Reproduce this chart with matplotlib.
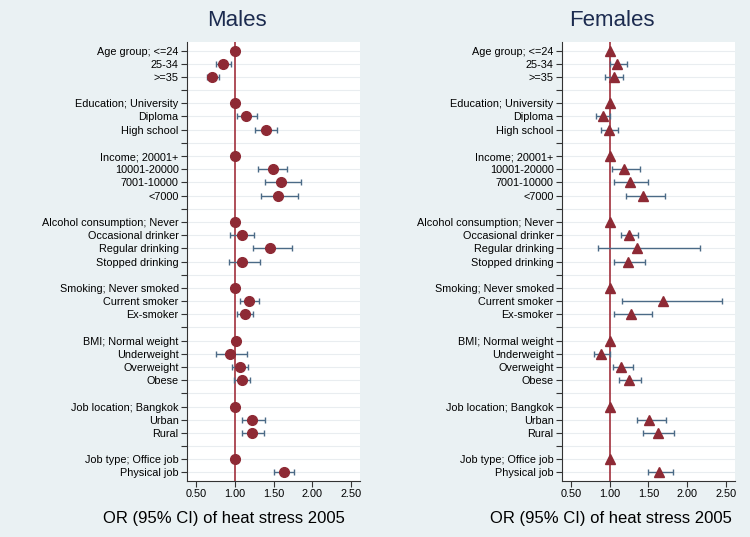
"""
Forest plot of heat stress odds ratios, males vs females (Stata look)
"""
import numpy as np
import matplotlib
matplotlib.use('Agg')
import matplotlib.pyplot as plt

plt.rcParams['font.family'] = ['Liberation Sans', 'DejaVu Sans']

# row labels, grouped (a blank row goes between groups)
groups = [
    ['Age group; <=24', '25-34', '>=35'],
    ['Education; University', 'Diploma', 'High school'],
    ['Income; 20001+', '10001-20000', '7001-10000', '<7000'],
    ['Alcohol consumption; Never', 'Occasional drinker', 'Regular drinking', 'Stopped drinking'],
    ['Smoking; Never smoked', 'Current smoker', 'Ex-smoker'],
    ['BMI; Normal weight', 'Underweight', 'Overweight', 'Obese'],
    ['Job location; Bangkok', 'Urban', 'Rural'],
    ['Job type; Office job', 'Physical job'],
]

male_or = [1.00, 0.85, 0.71,
           1.00, 1.15, 1.40,
           1.00, 1.49, 1.60, 1.56,
           1.00, 1.09, 1.46, 1.10,
           1.00, 1.19, 1.13,
           1.02, 0.94, 1.07, 1.09,
           1.00, 1.22, 1.22,
           1.01, 1.63]
male_lo = [np.nan, 0.76, 0.64,
           np.nan, 1.03, 1.26,
           np.nan, 1.30, 1.39, 1.34,
           np.nan, 0.94, 1.24, 0.92,
           np.nan, 1.07, 1.03,
           np.nan, 0.76, 0.97, 0.99,
           np.nan, 1.09, 1.09,
           np.nan, 1.51]
male_hi = [np.nan, 0.95, 0.80,
           np.nan, 1.29, 1.55,
           np.nan, 1.68, 1.85, 1.81,
           np.nan, 1.25, 1.74, 1.32,
           np.nan, 1.31, 1.23,
           np.nan, 1.16, 1.17, 1.20,
           np.nan, 1.39, 1.38,
           np.nan, 1.77]

female_or = [1.00, 1.10, 1.05,
             1.00, 0.91, 0.99,
             1.00, 1.19, 1.26, 1.43,
             1.00, 1.25, 1.35, 1.23,
             1.00, 1.69, 1.28,
             1.00, 0.89, 1.15, 1.25,
             1.00, 1.51, 1.62,
             1.00, 1.64]
female_lo = [np.nan, 1.00, 0.94,
             np.nan, 0.82, 0.89,
             np.nan, 1.03, 1.06, 1.21,
             np.nan, 1.15, 0.85, 1.05,
             np.nan, 1.16, 1.05,
             np.nan, 0.80, 1.04, 1.12,
             np.nan, 1.35, 1.43,
             np.nan, 1.49]
female_hi = [np.nan, 1.22, 1.17,
             np.nan, 1.01, 1.11,
             np.nan, 1.39, 1.49, 1.71,
             np.nan, 1.36, 2.16, 1.45,
             np.nan, 2.45, 1.55,
             np.nan, 1.01, 1.30, 1.40,
             np.nan, 1.72, 1.83,
             np.nan, 1.81]

xticks = [0.5, 1.0, 1.5, 2.0, 2.5]

BG = '#eaf1f3'
MARK = '#8e2a35'
REFLINE = '#a1303c'
CI_COL = '#4b6a86'
TITLE_COL = '#1c2b4f'

# y positions with a blank row between groups
pos, labels, tick_pos, tick_lab = [], [], [], []
y = 0
for gi, g in enumerate(groups):
    for lab in g:
        pos.append(y)
        labels.append(lab)
        tick_pos.append(y)
        tick_lab.append(lab)
        y += 1
    if gi < len(groups) - 1:
        tick_pos.append(y)
        tick_lab.append('')
        y += 1
pos = np.array(pos)
nrows = y


def panel(ax, est, lo, hi, marker, title, title_x, xlab_x):
    est, lo, hi = np.array(est), np.array(lo), np.array(hi)
    ax.set_facecolor('white')
    for t in tick_pos:
        ax.axhline(t, color='#e9edf0', lw=0.8, zorder=0)
    ax.axvline(1.0, color=REFLINE, lw=1.2, zorder=1)

    ok = ~np.isnan(lo)
    ax.errorbar(est[ok], pos[ok], xerr=[est[ok] - lo[ok], hi[ok] - est[ok]],
                fmt='none', ecolor=CI_COL, elinewidth=1.0, capsize=2.5,
                capthick=1.0, zorder=2)
    ax.plot(est, pos, ls='none', marker=marker, ms=7 if marker == 'o' else 7.5,
            color=MARK, mec=MARK, zorder=3)

    ax.set_xlim(0.385, 2.615)
    ax.set_ylim(nrows - 1 + 0.65, -0.65)
    ax.set_yticks(tick_pos)
    ax.set_yticklabels(tick_lab, fontsize=7.8)
    ax.set_xticks(xticks)
    ax.set_xticklabels([f'{v:.2f}' for v in xticks], fontsize=7.8)
    ax.tick_params(axis='both', length=4, width=0.8, color='#333333', pad=2)
    for s in ['top', 'right']:
        ax.spines[s].set_visible(False)
    for s in ['left', 'bottom']:
        ax.spines[s].set_color('#333333')
        ax.spines[s].set_linewidth(0.8)

    fig.text(title_x, 0.961, title, ha='center', va='center',
             fontsize=16, color=TITLE_COL)
    fig.text(xlab_x, 0.034, 'OR (95% CI) of heat stress 2005',
             ha='center', va='center', fontsize=12, color='black')


fig = plt.figure(figsize=(7.5, 5.37), dpi=100, facecolor=BG)
ax1 = fig.add_axes([187 / 750, 56 / 537, 173 / 750, 439 / 537])
ax2 = fig.add_axes([562 / 750, 56 / 537, 173 / 750, 439 / 537])

panel(ax1, male_or, male_lo, male_hi, 'o', 'Males', 237 / 750, 224 / 750)
panel(ax2, female_or, female_lo, female_hi, '^', 'Females', 612 / 750, 611 / 750)

fig.savefig('out.png', dpi=100, facecolor=BG)
plt.close(fig)
